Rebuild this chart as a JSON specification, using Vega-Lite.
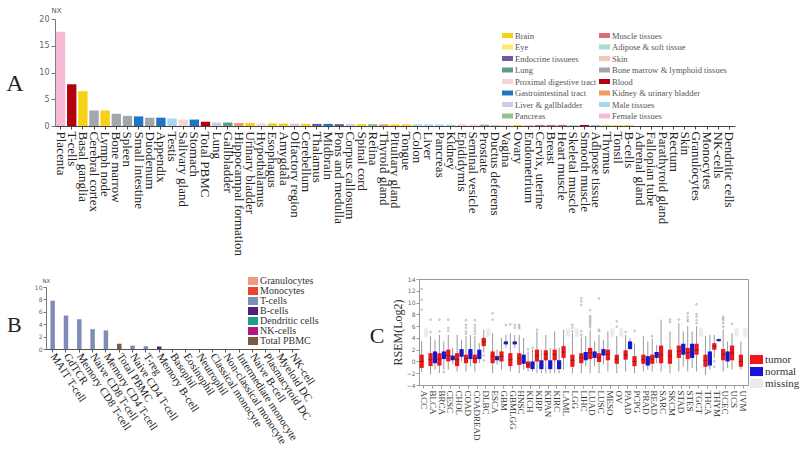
{
  "$schema": "https://vega.github.io/schema/vega-lite/v6.json",
  "background": "white",
  "padding": {"left": 6, "top": 6, "right": 0, "bottom": 0},
  "config": {
    "view": {"stroke": null},
    "axis": {"labelFont": "Liberation Serif", "titleFont": "Liberation Serif", "titleFontWeight": "normal"},
    "legend": {"labelFont": "Liberation Serif", "titleFont": "Liberation Serif"}
  },
  "spacing": 19,
  "resolve": {"scale": {"color": "independent"}, "legend": {"color": "independent"}},
  "vconcat": [
    {
      "vconcat": [
        {
          "width": 680,
          "height": 107,
          "title": {"text": "A", "orient": "left", "angle": 0, "align": "right", "baseline": "middle", "anchor": "middle", "font": "Liberation Serif", "fontSize": 24, "fontWeight": "normal", "color": "#222", "offset": -2, "dy": 11},
          "data": {"values": [
            {"tissue": "Placenta", "nx": 17.6, "group": "Female tissues"},
            {"tissue": "T-cells", "nx": 7.8, "group": "Blood"},
            {"tissue": "Basal ganglia", "nx": 6.5, "group": "Brain"},
            {"tissue": "Cerebral cortex", "nx": 2.9, "group": "Bone marrow & lymphoid tissues"},
            {"tissue": "Lymph node", "nx": 2.9, "group": "Brain"},
            {"tissue": "Bone marrow", "nx": 2.3, "group": "Bone marrow & lymphoid tissues"},
            {"tissue": "Spleen", "nx": 1.9, "group": "Bone marrow & lymphoid tissues"},
            {"tissue": "Small intestine", "nx": 1.8, "group": "Gastrointestinal tract"},
            {"tissue": "Duodenum", "nx": 1.55, "group": "Bone marrow & lymphoid tissues"},
            {"tissue": "Appendix", "nx": 1.55, "group": "Gastrointestinal tract"},
            {"tissue": "Testis", "nx": 1.4, "group": "Male tissues"},
            {"tissue": "Salivary gland", "nx": 1.2, "group": "Proximal digestive tract"},
            {"tissue": "Stomach", "nx": 1.2, "group": "Gastrointestinal tract"},
            {"tissue": "Total PBMC", "nx": 0.8, "group": "Blood"},
            {"tissue": "Lung", "nx": 0.65, "group": "Liver & gallbladder"},
            {"tissue": "Gallbladder", "nx": 0.65, "group": "Lung"},
            {"tissue": "Hippocampal formation", "nx": 0.55, "group": "Kidney & urinary bladder"},
            {"tissue": "Urinary bladder", "nx": 0.55, "group": "Brain"},
            {"tissue": "Hypothalamus", "nx": 0.5, "group": "Proximal digestive tract"},
            {"tissue": "Esophagus", "nx": 0.5, "group": "Brain"},
            {"tissue": "Amygdala", "nx": 0.45, "group": "Brain"},
            {"tissue": "Olfactory region", "nx": 0.45, "group": "Liver & gallbladder"},
            {"tissue": "Cerebellum", "nx": 0.4, "group": "Brain"},
            {"tissue": "Thalamus", "nx": 0.4, "group": "Endocrine tissuees"},
            {"tissue": "Midbrain", "nx": 0.4, "group": "Gastrointestinal tract"},
            {"tissue": "Pons and medulla", "nx": 0.35, "group": "Endocrine tissuees"},
            {"tissue": "Corpus callosum", "nx": 0.35, "group": "Liver & gallbladder"},
            {"tissue": "Spinal cord", "nx": 0.35, "group": "Brain"},
            {"tissue": "Retina", "nx": 0.35, "group": "Pancreas"},
            {"tissue": "Thyroid gland", "nx": 0.3, "group": "Kidney & urinary bladder"},
            {"tissue": "Pituitary gland", "nx": 0.3, "group": "Brain"},
            {"tissue": "Tongue", "nx": 0.3, "group": "Brain"},
            {"tissue": "Colon", "nx": 0.3, "group": "Male tissues"},
            {"tissue": "Liver", "nx": 0.3, "group": "Male tissues"},
            {"tissue": "Pancreas", "nx": 0.25, "group": "Male tissues"},
            {"tissue": "Kidney", "nx": 0.25, "group": "Male tissues"},
            {"tissue": "Epididymis", "nx": 0.25, "group": "Female tissues"},
            {"tissue": "Seminal vesicle", "nx": 0.25, "group": "Proximal digestive tract"},
            {"tissue": "Prostate", "nx": 0.25, "group": "Bone marrow & lymphoid tissues"},
            {"tissue": "Ductus deferens", "nx": 0.2, "group": "Female tissues"},
            {"tissue": "Vagina", "nx": 0.2, "group": "Proximal digestive tract"},
            {"tissue": "Ovary", "nx": 0.2, "group": "Brain"},
            {"tissue": "Endometrium", "nx": 0.2, "group": "Female tissues"},
            {"tissue": "Cervix, uterine", "nx": 0.2, "group": "Muscle tissues"},
            {"tissue": "Breast", "nx": 0.2, "group": "Muscle tissues"},
            {"tissue": "Heart muscle", "nx": 0.2, "group": "Muscle tissues"},
            {"tissue": "Skeletal muscle", "nx": 0.2, "group": "Adipose & soft tissue"},
            {"tissue": "Smooth muscle", "nx": 0.2, "group": "Blood"},
            {"tissue": "Adipose tissue", "nx": 0.15, "group": "Bone marrow & lymphoid tissues"},
            {"tissue": "Thymus", "nx": 0.15, "group": "Brain"},
            {"tissue": "Tonsil", "nx": 0.15, "group": "Brain"},
            {"tissue": "B-cells", "nx": 0.15, "group": "Brain"},
            {"tissue": "Adrenal gland", "nx": 0, "group": "Endocrine tissuees"},
            {"tissue": "Fallopian tube", "nx": 0, "group": "Female tissues"},
            {"tissue": "Parathyroid gland", "nx": 0, "group": "Endocrine tissuees"},
            {"tissue": "Rectum", "nx": 0, "group": "Gastrointestinal tract"},
            {"tissue": "Skin", "nx": 0, "group": "Skin"},
            {"tissue": "Granulocytes", "nx": 0, "group": "Blood"},
            {"tissue": "Monocytes", "nx": 0, "group": "Blood"},
            {"tissue": "NK-cells", "nx": 0, "group": "Blood"},
            {"tissue": "Dendritic cells", "nx": 0, "group": "Blood"}
          ]},
          "mark": {"type": "bar"},
          "encoding": {
            "x": {"field": "tissue", "type": "nominal", "sort": null,
              "scale": {"paddingInner": 0.16, "paddingOuter": 0.08},
              "axis": {"title": null, "labelAngle": 90, "labelFont": "Liberation Serif", "labelFontSize": 13, "labelColor": "#222", "labelPadding": 2, "tickSize": 3, "tickColor": "#444", "domainColor": "#444", "labelLimit": 300}},
            "y": {"field": "nx", "type": "quantitative", "scale": {"domain": [0, 20]},
              "axis": {"values": [0, 5, 10, 15, 20], "grid": false, "title": "NX", "titleAngle": 0, "titleX": -4, "titleY": -9, "titleAlign": "left", "titleBaseline": "middle", "titleFont": "DejaVu Sans", "titleFontSize": 7, "titleColor": "#555", "labelFont": "DejaVu Sans", "labelFontSize": 8, "labelColor": "#666", "tickSize": 4, "tickColor": "#777", "domainColor": "#777", "labelPadding": 2}},
            "color": {"field": "group", "type": "nominal",
              "scale": {
                "domain": ["Brain", "Eye", "Endocrine tissuees", "Lung", "Proximal digestive tract", "Gastrointestinal tract", "Liver & gallbladder", "Pancreas", "Muscle tissues", "Adipose & soft tissue", "Skin", "Bone marrow & lymphoid tissues", "Blood", "Kidney & urinary bladder", "Male tissues", "Female tissues"],
                "range": ["#F7D117", "#FDE96B", "#6F5A9C", "#5E9E88", "#F8D4D9", "#1F74C4", "#D3C9E6", "#8DC48B", "#DB6A7C", "#A9DDCB", "#F6C6B2", "#A3A7AB", "#B2000F", "#F29A5E", "#A6D7F1", "#F6B9D5"]},
              "legend": {"orient": "none", "legendX": 447, "legendY": 11, "columns": 2, "title": null, "symbolType": "M-1,-0.45H1V0.45H-1Z", "symbolSize": 121, "symbolStrokeWidth": 0, "labelFont": "Liberation Serif", "labelFontSize": 8.5, "labelColor": "#555", "rowPadding": 1.5, "columnPadding": 2, "labelOffset": 2, "labelLimit": 300}}
          }
        }
      ]
    },
    {
      "spacing": 50,
      "resolve": {"scale": {"color": "independent"}, "legend": {"color": "independent"}},
      "hconcat": [
        {
          "vconcat": [
            {
              "width": 253,
              "height": 70,
              "title": {"text": "B", "orient": "left", "angle": 0, "align": "right", "baseline": "middle", "anchor": "middle", "font": "Liberation Serif", "fontSize": 22, "fontWeight": "normal", "color": "#222", "offset": -2, "dy": 11},
              "data": {"values": [
                {"cell": "MAIT T-cell", "nx": 7.8, "lineage": "T-cells"},
                {"cell": "GdTCR", "nx": 5.4, "lineage": "T-cells"},
                {"cell": "Memory CD8 T-cell", "nx": 4.8, "lineage": "T-cells"},
                {"cell": "Naive CD8 T-cell", "nx": 3.2, "lineage": "T-cells"},
                {"cell": "Memory CD4 T-cell", "nx": 3.0, "lineage": "T-cells"},
                {"cell": "Total PBMC", "nx": 0.85, "lineage": "Total PBMC"},
                {"cell": "Naive CD4 T-cell", "nx": 0.55, "lineage": "T-cells"},
                {"cell": "T-reg", "nx": 0.45, "lineage": "T-cells"},
                {"cell": "Memory B-cell", "nx": 0.4, "lineage": "B-cells"},
                {"cell": "Basophil", "nx": 0, "lineage": "Granulocytes"},
                {"cell": "Eosinophil", "nx": 0, "lineage": "Granulocytes"},
                {"cell": "Neutrophil", "nx": 0, "lineage": "Granulocytes"},
                {"cell": "Classical monocyte", "nx": 0, "lineage": "Monocytes"},
                {"cell": "Non-classical monocyte", "nx": 0, "lineage": "Monocytes"},
                {"cell": "Intermediate monocyte", "nx": 0, "lineage": "Monocytes"},
                {"cell": "Naive B-cell", "nx": 0, "lineage": "B-cells"},
                {"cell": "Plasmacytoid DC", "nx": 0, "lineage": "Dendritic cells"},
                {"cell": "Myeloid DC", "nx": 0, "lineage": "Dendritic cells"},
                {"cell": "NK-cell", "nx": 0, "lineage": "NK-cells"}
              ]},
              "mark": {"type": "bar", "width": 4.5},
              "encoding": {
                "x": {"field": "cell", "type": "nominal", "sort": null,
                  "scale": {"range": [-9, 244]},
                  "axis": {"title": null, "labelAngle": 57, "labelFont": "Liberation Serif", "labelFontSize": 11, "labelColor": "#222", "labelPadding": 2, "tickSize": 3, "tickColor": "#555", "domainColor": "#555", "labelLimit": 300}},
                "y": {"field": "nx", "type": "quantitative", "scale": {"domain": [0, 10], "range": [70, 8]},
                  "axis": {"offset": 9, "values": [0, 2, 4, 6, 8, 10], "grid": false, "title": "NX", "titleAngle": 0, "titleX": -4, "titleY": 1, "titleAlign": "left", "titleBaseline": "middle", "titleFont": "DejaVu Sans", "titleFontSize": 5.5, "titleColor": "#555", "labelFont": "DejaVu Sans", "labelFontSize": 6, "labelColor": "#666", "tickSize": 3, "tickColor": "#777", "domainColor": "#777", "labelPadding": 1}},
                "color": {"field": "lineage", "type": "nominal",
                  "scale": {"domain": ["Granulocytes", "Monocytes", "T-cells", "B-cells", "Dendritic cells", "NK-cells", "Total PBMC"],
                    "range": ["#F09A7E", "#E8452F", "#7E8DB6", "#4E2278", "#1F9E86", "#B0177F", "#7B5A42"]},
                  "legend": {"orient": "none", "legendX": 193, "legendY": -3, "title": null, "symbolType": "M-1,-0.8H1V0.8H-1Z", "symbolSize": 100, "symbolStrokeWidth": 0, "labelFont": "Liberation Serif", "labelFontSize": 10, "labelColor": "#333", "rowPadding": -0.5, "labelOffset": 2, "labelLimit": 300}}
              }
            }
          ]
        },
        {
          "width": 329,
          "height": 106,
          "view": {"stroke": "#999", "strokeWidth": 1},
          "title": {"text": "C", "orient": "left", "angle": 0, "align": "right", "baseline": "middle", "anchor": "middle", "font": "Liberation Serif", "fontSize": 22, "fontWeight": "normal", "color": "#222", "offset": -8, "dy": 4},
          "layer": [
            {
              "data": {"name": "boxes"},
              "transform": [{"filter": "datum.type != 'missing'"}],
              "mark": {"type": "rule", "color": "#9a9a9a", "strokeWidth": 1},
              "encoding": {
                "x": {"field": "cancer", "type": "nominal"},
                "xOffset": {"field": "slot", "type": "nominal"},
                "y": {"field": "lo", "type": "quantitative"},
                "y2": {"field": "hi"}
              }
            },
            {
              "data": {"name": "boxes"},
              "mark": {"type": "bar", "size": 4.2},
              "encoding": {
                "x": {"field": "cancer", "type": "nominal"},
                "xOffset": {"field": "slot", "type": "nominal"},
                "y": {"field": "q1", "type": "quantitative"},
                "y2": {"field": "q3"},
                "color": {"field": "type", "type": "nominal",
                  "scale": {"domain": ["tumor", "normal", "missing"], "range": ["#EE1616", "#1414D8", "#EBEBEB"]},
                  "legend": {"orient": "none", "legendX": 331, "legendY": 74, "title": null, "symbolType": "M-1,-0.7H1V0.7H-1Z", "symbolSize": 169, "symbolStrokeWidth": 0, "labelFont": "Liberation Serif", "labelFontSize": 11, "labelColor": "#333", "rowPadding": 0, "labelOffset": 2}}
              }
            },
            {
              "data": {"name": "boxes"},
              "transform": [{"filter": "datum.type != 'missing'"}],
              "mark": {"type": "tick", "color": "#333", "thickness": 1, "size": 4.2},
              "encoding": {
                "x": {"field": "cancer", "type": "nominal"},
                "xOffset": {"field": "slot", "type": "nominal"},
                "y": {"field": "med", "type": "quantitative"}
              }
            },
            {
              "data": {"name": "outliers"},
              "mark": {"type": "point", "color": "#888", "size": 3, "strokeWidth": 0.8},
              "encoding": {
                "x": {"field": "cancer", "type": "nominal"},
                "xOffset": {"field": "slot", "type": "nominal"},
                "y": {"field": "v", "type": "quantitative"}
              }
            }
          ],
          "encoding": {
            "x": {"field": "cancer", "type": "nominal",
              "scale": {"domain": ["ACC", "BLCA", "BRCA", "CESC", "CHOL", "COAD", "COADREAD", "DLBC", "ESCA", "GBM", "GBMLGG", "HNSC", "KICH", "KIRP", "KIPAN", "KIRC", "LAML", "LGG", "LIHC", "LUAD", "LUSC", "MESO", "OV", "PAAD", "PCPG", "PRAD", "READ", "SARC", "SKCM", "STAD", "STES", "TGCT", "THCA", "THYM", "UCEC", "UCS", "UVM"], "paddingInner": 0, "paddingOuter": 0.05},
              "axis": {"title": null, "labelAngle": 90, "labelFont": "Liberation Serif", "labelFontSize": 9, "labelColor": "#333", "labelPadding": 2, "tickSize": 3, "tickColor": "#999", "domain": false}},
            "xOffset": {"field": "slot", "type": "nominal", "scale": {"domain": ["tumor", "normal"], "paddingInner": 0, "paddingOuter": 0}},
            "y": {"type": "quantitative", "scale": {"domain": [-4, 14]},
              "axis": {"values": [-4, -2, 0, 2, 4, 6, 8, 10, 12, 14], "grid": false, "title": "RSEM(Log2)", "titleFont": "Liberation Serif", "titleFontSize": 12, "titleColor": "#333", "titlePadding": 2, "labelFont": "DejaVu Sans", "labelFontSize": 6, "labelColor": "#666", "tickSize": 3, "tickColor": "#999", "domain": false, "labelPadding": 1}}
          }
        }
      ]
    }
  ],
  "datasets": {
    "boxes": [
      {"cancer": "ACC", "slot": "tumor", "type": "tumor", "lo": -1.8, "q1": -1.1, "med": 0.0, "q3": 1.15, "hi": 3.4},
      {"cancer": "ACC", "slot": "normal", "type": "missing", "q1": 4.2, "q3": 5.6},
      {"cancer": "BLCA", "slot": "tumor", "type": "tumor", "lo": -2.2, "q1": -0.8, "med": 0.3, "q3": 1.4, "hi": 4.3},
      {"cancer": "BLCA", "slot": "normal", "type": "normal", "lo": -1.4, "q1": -0.3, "med": 0.7, "q3": 1.7, "hi": 3.7},
      {"cancer": "BRCA", "slot": "tumor", "type": "tumor", "lo": -2.0, "q1": -0.7, "med": 0.4, "q3": 1.4, "hi": 4.5},
      {"cancer": "BRCA", "slot": "normal", "type": "normal", "lo": -1.4, "q1": 0.4, "med": 1.1, "q3": 1.7, "hi": 3.4},
      {"cancer": "CESC", "slot": "tumor", "type": "tumor", "lo": -1.4, "q1": 0.0, "med": 1.0, "q3": 2.0, "hi": 4.5},
      {"cancer": "CESC", "slot": "normal", "type": "normal", "lo": -0.5, "q1": 0.2, "med": 0.6, "q3": 1.0, "hi": 2.3},
      {"cancer": "CHOL", "slot": "tumor", "type": "tumor", "lo": -1.7, "q1": -0.8, "med": 0.3, "q3": 1.4, "hi": 4.5},
      {"cancer": "CHOL", "slot": "normal", "type": "normal", "lo": 0.0, "q1": 0.8, "med": 1.5, "q3": 2.1, "hi": 3.7},
      {"cancer": "COAD", "slot": "tumor", "type": "tumor", "lo": -1.7, "q1": -0.3, "med": 0.5, "q3": 1.15, "hi": 4.3},
      {"cancer": "COAD", "slot": "normal", "type": "normal", "lo": -0.8, "q1": 0.4, "med": 1.5, "q3": 2.1, "hi": 4.5},
      {"cancer": "COADREAD", "slot": "tumor", "type": "tumor", "lo": -1.7, "q1": -0.3, "med": 0.5, "q3": 1.15, "hi": 4.3},
      {"cancer": "COADREAD", "slot": "normal", "type": "normal", "lo": -0.3, "q1": 0.4, "med": 1.2, "q3": 2.0, "hi": 3.1},
      {"cancer": "DLBC", "slot": "tumor", "type": "tumor", "lo": 1.5, "q1": 2.6, "med": 3.3, "q3": 4.0, "hi": 5.4},
      {"cancer": "DLBC", "slot": "normal", "type": "missing", "q1": 4.2, "q3": 5.6},
      {"cancer": "ESCA", "slot": "tumor", "type": "tumor", "lo": -2.0, "q1": -0.3, "med": 0.9, "q3": 1.7, "hi": 4.8},
      {"cancer": "ESCA", "slot": "normal", "type": "normal", "lo": -0.5, "q1": 0.2, "med": 0.6, "q3": 0.9, "hi": 2.0},
      {"cancer": "GBM", "slot": "tumor", "type": "tumor", "lo": -1.4, "q1": 0.0, "med": 0.9, "q3": 1.7, "hi": 4.0},
      {"cancer": "GBM", "slot": "normal", "type": "normal", "lo": 2.3, "q1": 2.9, "med": 3.1, "q3": 3.4, "hi": 4.5},
      {"cancer": "GBMLGG", "slot": "tumor", "type": "tumor", "lo": -1.7, "q1": -0.8, "med": 0.3, "q3": 1.4, "hi": 4.8},
      {"cancer": "GBMLGG", "slot": "normal", "type": "normal", "lo": 2.3, "q1": 2.9, "med": 3.1, "q3": 3.4, "hi": 4.5},
      {"cancer": "HNSC", "slot": "tumor", "type": "tumor", "lo": -2.0, "q1": -0.6, "med": 0.5, "q3": 1.4, "hi": 4.5},
      {"cancer": "HNSC", "slot": "normal", "type": "normal", "lo": -1.4, "q1": -0.4, "med": 0.3, "q3": 1.15, "hi": 4.0},
      {"cancer": "KICH", "slot": "tumor", "type": "tumor", "lo": -1.7, "q1": -1.1, "med": -0.6, "q3": 0.0, "hi": 1.7},
      {"cancer": "KICH", "slot": "normal", "type": "normal", "lo": -1.7, "q1": -1.3, "med": -0.6, "q3": 0.0, "hi": 2.0},
      {"cancer": "KIRP", "slot": "tumor", "type": "tumor", "lo": -2.0, "q1": 0.0, "med": 1.0, "q3": 2.0, "hi": 5.1},
      {"cancer": "KIRP", "slot": "normal", "type": "normal", "lo": -2.0, "q1": -1.3, "med": -0.6, "q3": 0.2, "hi": 2.0},
      {"cancer": "KIPAN", "slot": "tumor", "type": "tumor", "lo": -2.0, "q1": 0.2, "med": 1.2, "q3": 1.9, "hi": 4.5},
      {"cancer": "KIPAN", "slot": "normal", "type": "normal", "lo": -2.0, "q1": -1.3, "med": -0.6, "q3": 0.2, "hi": 2.3},
      {"cancer": "KIRC", "slot": "tumor", "type": "tumor", "lo": -2.0, "q1": 0.2, "med": 1.2, "q3": 2.0, "hi": 5.1},
      {"cancer": "KIRC", "slot": "normal", "type": "normal", "lo": -2.0, "q1": -1.3, "med": -0.6, "q3": 0.2, "hi": 2.3},
      {"cancer": "LAML", "slot": "tumor", "type": "tumor", "lo": -1.4, "q1": 0.6, "med": 1.6, "q3": 2.6, "hi": 5.4},
      {"cancer": "LAML", "slot": "normal", "type": "missing", "q1": 4.2, "q3": 5.6},
      {"cancer": "LGG", "slot": "tumor", "type": "tumor", "lo": -2.0, "q1": -0.9, "med": 0.2, "q3": 1.15, "hi": 4.8},
      {"cancer": "LGG", "slot": "normal", "type": "missing", "q1": 4.2, "q3": 5.6},
      {"cancer": "LIHC", "slot": "tumor", "type": "tumor", "lo": -2.0, "q1": -0.3, "med": 0.6, "q3": 1.4, "hi": 4.2},
      {"cancer": "LIHC", "slot": "normal", "type": "normal", "lo": -0.8, "q1": 0.2, "med": 0.9, "q3": 1.6, "hi": 4.3},
      {"cancer": "LUAD", "slot": "tumor", "type": "tumor", "lo": -2.0, "q1": 0.4, "med": 1.5, "q3": 2.3, "hi": 5.4},
      {"cancer": "LUAD", "slot": "normal", "type": "normal", "lo": -0.8, "q1": 0.6, "med": 1.2, "q3": 1.7, "hi": 3.4},
      {"cancer": "LUSC", "slot": "tumor", "type": "tumor", "lo": -2.0, "q1": -0.1, "med": 0.6, "q3": 1.4, "hi": 4.5},
      {"cancer": "LUSC", "slot": "normal", "type": "normal", "lo": -0.5, "q1": 1.0, "med": 1.6, "q3": 2.1, "hi": 3.7},
      {"cancer": "MESO", "slot": "tumor", "type": "tumor", "lo": -1.7, "q1": 0.2, "med": 1.2, "q3": 2.0, "hi": 5.1},
      {"cancer": "MESO", "slot": "normal", "type": "missing", "q1": 4.2, "q3": 5.6},
      {"cancer": "OV", "slot": "tumor", "type": "tumor", "lo": -2.0, "q1": -0.4, "med": 0.4, "q3": 1.15, "hi": 4.3},
      {"cancer": "OV", "slot": "normal", "type": "missing", "q1": 4.2, "q3": 5.6},
      {"cancer": "PAAD", "slot": "tumor", "type": "tumor", "lo": -1.7, "q1": 0.3, "med": 1.1, "q3": 1.9, "hi": 4.5},
      {"cancer": "PAAD", "slot": "normal", "type": "normal", "lo": 2.0, "q1": 2.1, "med": 2.9, "q3": 3.4, "hi": 4.0},
      {"cancer": "PCPG", "slot": "tumor", "type": "tumor", "lo": -2.0, "q1": -0.8, "med": 0.0, "q3": 0.9, "hi": 3.1},
      {"cancer": "PRAD", "slot": "tumor", "type": "tumor", "lo": -1.7, "q1": -0.4, "med": 0.3, "q3": 1.15, "hi": 4.3},
      {"cancer": "PRAD", "slot": "normal", "type": "normal", "lo": -1.4, "q1": -0.7, "med": 0.1, "q3": 0.9, "hi": 3.4},
      {"cancer": "READ", "slot": "tumor", "type": "tumor", "lo": -1.7, "q1": -0.4, "med": 0.4, "q3": 1.15, "hi": 3.9},
      {"cancer": "READ", "slot": "normal", "type": "normal", "lo": -0.3, "q1": 0.6, "med": 1.2, "q3": 1.6, "hi": 2.8},
      {"cancer": "SARC", "slot": "tumor", "type": "tumor", "lo": -1.7, "q1": -0.3, "med": 1.1, "q3": 2.7, "hi": 7.1},
      {"cancer": "SKCM", "slot": "tumor", "type": "tumor", "lo": -2.0, "q1": -0.4, "med": 0.9, "q3": 2.0, "hi": 5.1},
      {"cancer": "STAD", "slot": "tumor", "type": "tumor", "lo": -1.7, "q1": 0.6, "med": 1.7, "q3": 2.7, "hi": 6.5},
      {"cancer": "STAD", "slot": "normal", "type": "normal", "lo": -0.8, "q1": 1.15, "med": 2.1, "q3": 3.0, "hi": 5.1},
      {"cancer": "STES", "slot": "tumor", "type": "tumor", "lo": -1.7, "q1": 0.4, "med": 1.5, "q3": 2.3, "hi": 6.0},
      {"cancer": "STES", "slot": "normal", "type": "normal", "lo": -1.1, "q1": 0.6, "med": 1.7, "q3": 3.0, "hi": 5.1},
      {"cancer": "TGCT", "slot": "tumor", "type": "tumor", "lo": -1.7, "q1": 1.15, "med": 2.0, "q3": 3.0, "hi": 6.0},
      {"cancer": "TGCT", "slot": "normal", "type": "missing", "q1": 4.2, "q3": 5.6},
      {"cancer": "THCA", "slot": "tumor", "type": "tumor", "lo": -2.3, "q1": -0.9, "med": 0.2, "q3": 1.15, "hi": 4.3},
      {"cancer": "THCA", "slot": "normal", "type": "normal", "lo": -1.4, "q1": -0.7, "med": 0.4, "q3": 1.7, "hi": 4.5},
      {"cancer": "THYM", "slot": "tumor", "type": "tumor", "lo": 0.6, "q1": 2.0, "med": 2.6, "q3": 3.1, "hi": 4.5},
      {"cancer": "THYM", "slot": "normal", "type": "normal", "lo": 3.3, "q1": 3.45, "med": 3.6, "q3": 3.8, "hi": 3.9},
      {"cancer": "UCEC", "slot": "tumor", "type": "tumor", "lo": -1.7, "q1": 0.2, "med": 1.2, "q3": 2.1, "hi": 5.4},
      {"cancer": "UCEC", "slot": "normal", "type": "normal", "lo": -1.1, "q1": 0.0, "med": 1.0, "q3": 1.7, "hi": 3.4},
      {"cancer": "UCS", "slot": "tumor", "type": "tumor", "lo": -1.4, "q1": 0.2, "med": 1.4, "q3": 2.7, "hi": 4.8},
      {"cancer": "UCS", "slot": "normal", "type": "missing", "q1": 4.2, "q3": 5.6},
      {"cancer": "UVM", "slot": "tumor", "type": "tumor", "lo": -1.4, "q1": -0.9, "med": 0.0, "q3": 1.15, "hi": 3.4},
      {"cancer": "UVM", "slot": "normal", "type": "missing", "q1": 4.2, "q3": 5.6}
    ],
    "outliers": [
      {"cancer": "ACC", "slot": "tumor", "v": 8.8},
      {"cancer": "ACC", "slot": "tumor", "v": 10.5},
      {"cancer": "ACC", "slot": "tumor", "v": 12.3},
      {"cancer": "BLCA", "slot": "tumor", "v": 7.1},
      {"cancer": "BLCA", "slot": "tumor", "v": 5.0},
      {"cancer": "BRCA", "slot": "tumor", "v": 5.1},
      {"cancer": "BRCA", "slot": "tumor", "v": 7.1},
      {"cancer": "BRCA", "slot": "normal", "v": -1.8},
      {"cancer": "CESC", "slot": "tumor", "v": 5.2},
      {"cancer": "CESC", "slot": "tumor", "v": 5.7},
      {"cancer": "CESC", "slot": "tumor", "v": 7.1},
      {"cancer": "COAD", "slot": "tumor", "v": 4.7},
      {"cancer": "COAD", "slot": "tumor", "v": 5.1},
      {"cancer": "COAD", "slot": "tumor", "v": 5.7},
      {"cancer": "COAD", "slot": "tumor", "v": 6.2},
      {"cancer": "COAD", "slot": "tumor", "v": 7.0},
      {"cancer": "COADREAD", "slot": "tumor", "v": 4.7},
      {"cancer": "COADREAD", "slot": "tumor", "v": 5.2},
      {"cancer": "COADREAD", "slot": "tumor", "v": 5.7},
      {"cancer": "COADREAD", "slot": "tumor", "v": 6.2},
      {"cancer": "COADREAD", "slot": "tumor", "v": 7.0},
      {"cancer": "DLBC", "slot": "tumor", "v": 1.0},
      {"cancer": "DLBC", "slot": "tumor", "v": 0.2},
      {"cancer": "ESCA", "slot": "tumor", "v": 7.1},
      {"cancer": "ESCA", "slot": "tumor", "v": 8.2},
      {"cancer": "GBM", "slot": "normal", "v": 6.2},
      {"cancer": "GBMLGG", "slot": "tumor", "v": 6.3},
      {"cancer": "GBMLGG", "slot": "normal", "v": 6.2},
      {"cancer": "GBMLGG", "slot": "normal", "v": 5.7},
      {"cancer": "HNSC", "slot": "tumor", "v": 5.6},
      {"cancer": "HNSC", "slot": "tumor", "v": 5.9},
      {"cancer": "HNSC", "slot": "tumor", "v": 6.2},
      {"cancer": "KICH", "slot": "tumor", "v": 2.1},
      {"cancer": "KICH", "slot": "normal", "v": 2.3},
      {"cancer": "KIRP", "slot": "tumor", "v": 5.4},
      {"cancer": "LGG", "slot": "tumor", "v": 5.1},
      {"cancer": "LGG", "slot": "tumor", "v": 5.7},
      {"cancer": "LGG", "slot": "tumor", "v": 6.2},
      {"cancer": "LIHC", "slot": "tumor", "v": 4.5},
      {"cancer": "LIHC", "slot": "tumor", "v": 5.1},
      {"cancer": "LIHC", "slot": "tumor", "v": 9.6},
      {"cancer": "LIHC", "slot": "tumor", "v": 10.2},
      {"cancer": "LIHC", "slot": "tumor", "v": 10.7},
      {"cancer": "LUAD", "slot": "tumor", "v": 5.8},
      {"cancer": "LUAD", "slot": "tumor", "v": 6.2},
      {"cancer": "LUAD", "slot": "tumor", "v": 6.5},
      {"cancer": "LUAD", "slot": "tumor", "v": 6.8},
      {"cancer": "LUAD", "slot": "tumor", "v": 7.1},
      {"cancer": "LUAD", "slot": "tumor", "v": 7.4},
      {"cancer": "LUAD", "slot": "tumor", "v": 7.7},
      {"cancer": "LUAD", "slot": "tumor", "v": 8.7},
      {"cancer": "LUSC", "slot": "tumor", "v": 5.1},
      {"cancer": "LUSC", "slot": "tumor", "v": 5.4},
      {"cancer": "LUSC", "slot": "tumor", "v": 10.7},
      {"cancer": "OV", "slot": "tumor", "v": 5.9},
      {"cancer": "OV", "slot": "tumor", "v": 6.8},
      {"cancer": "PAAD", "slot": "tumor", "v": 5.0},
      {"cancer": "PCPG", "slot": "tumor", "v": 5.2},
      {"cancer": "READ", "slot": "tumor", "v": 4.3},
      {"cancer": "SKCM", "slot": "tumor", "v": 6.7},
      {"cancer": "SKCM", "slot": "tumor", "v": 7.1},
      {"cancer": "STAD", "slot": "tumor", "v": 7.1},
      {"cancer": "STES", "slot": "tumor", "v": 6.8},
      {"cancer": "STES", "slot": "tumor", "v": 7.1},
      {"cancer": "STES", "slot": "tumor", "v": 7.6},
      {"cancer": "STES", "slot": "tumor", "v": 8.2},
      {"cancer": "TGCT", "slot": "tumor", "v": 6.5},
      {"cancer": "TGCT", "slot": "tumor", "v": 7.0},
      {"cancer": "TGCT", "slot": "tumor", "v": 7.6},
      {"cancer": "TGCT", "slot": "tumor", "v": 8.0},
      {"cancer": "TGCT", "slot": "tumor", "v": 9.7},
      {"cancer": "THYM", "slot": "tumor", "v": 0.0},
      {"cancer": "THYM", "slot": "tumor", "v": -0.9},
      {"cancer": "UCEC", "slot": "tumor", "v": 5.9},
      {"cancer": "UCEC", "slot": "tumor", "v": 6.5},
      {"cancer": "UCEC", "slot": "tumor", "v": 7.0},
      {"cancer": "UCEC", "slot": "tumor", "v": 7.3},
      {"cancer": "UCEC", "slot": "tumor", "v": 7.6},
      {"cancer": "UCS", "slot": "tumor", "v": 6.4}
    ]
  }
}
